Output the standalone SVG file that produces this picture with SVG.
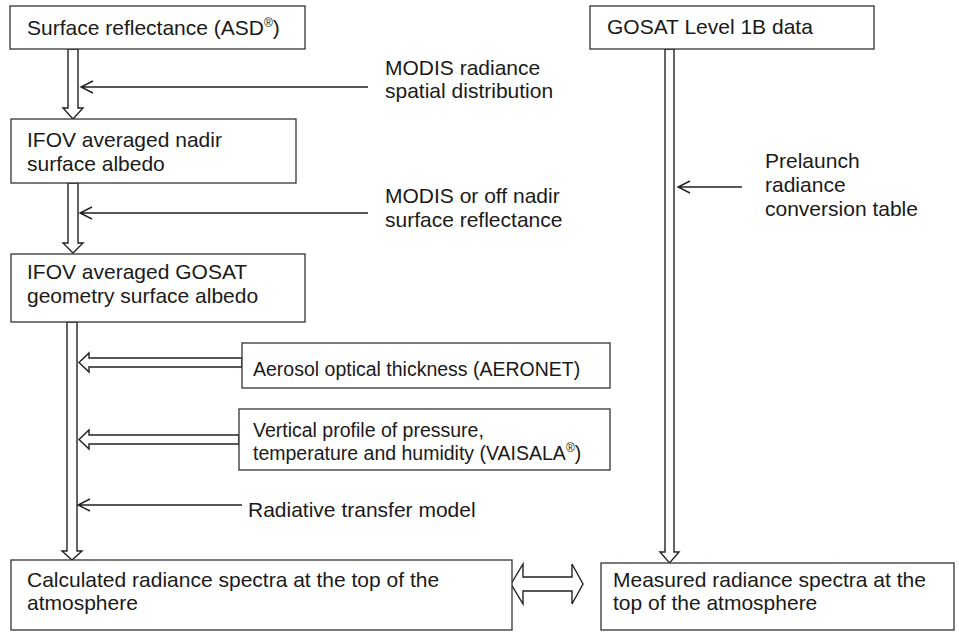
<svg xmlns="http://www.w3.org/2000/svg" width="959" height="632" viewBox="0 0 959 632">
  <style>
    .box { fill: #ffffff; stroke: #333333; stroke-width: 1.3; }
    .hollow { fill: #ffffff; stroke: #222222; stroke-width: 1.4; stroke-linejoin: miter; }
    .thin { fill: none; stroke: #222222; stroke-width: 1.4; }
    text { font-family: "Liberation Sans", Arial, sans-serif; font-size: 21px; fill: #1a1a1a; }
    .small { font-size: 19.5px; }
    .sup { font-size: 12px; }
  </style>
  <rect width="959" height="632" fill="#ffffff"/>

  <!-- connectors -->
  <g id="connectors">
    <!-- hollow block arrows -->
    <polygon class="hollow" points="68,49 78,49 78,108 83,108 73,119 63,108 68,108"/>
    <polygon class="hollow" points="68,183 78,183 78,243 83,243 73,253 63,243 68,243"/>
    <polygon class="hollow" points="67,322 77,322 77,551 82,551 72,560 62,551 67,551"/>
    <polygon class="hollow" points="665,49 674,49 674,552 679,552 669.5,563 660,552 665,552"/>
    <polygon class="hollow" points="242,358 89,358 89,353 79,362.5 89,372 89,367 242,367"/>
    <polygon class="hollow" points="239,435 89,435 89,430 79,439.5 89,449 89,444 239,444"/>
    <!-- double-headed comparison arrow -->
    <polygon class="hollow" points="511,584 523,564 523,577 572,577 572,564 583,584 572,604 572,591 523,591 523,604"/>
    <!-- thin input arrows -->
    <path class="thin" d="M368,87 H81 M93,81 L81,87 L93,93"/>
    <path class="thin" d="M368,213 H80 M92,207 L80,213 L92,219"/>
    <path class="thin" d="M742,187 H678 M690,181 L678,187 L690,193"/>
    <path class="thin" d="M242,505 H78 M90,499 L78,505 L90,511"/>
  </g>

  <!-- labels on connectors -->
  <g id="label-modis-radiance">
    <text x="385" y="75">MODIS radiance</text>
    <text x="385" y="98">spatial distribution</text>
  </g>
  <g id="label-modis-offnadir">
    <text x="385" y="203">MODIS or off nadir</text>
    <text x="385" y="227">surface reflectance</text>
  </g>
  <g id="label-prelaunch">
    <text x="765" y="168">Prelaunch</text>
    <text x="765" y="192">radiance</text>
    <text x="765" y="216">conversion table</text>
  </g>
  <g id="label-rtm">
    <text x="248" y="517">Radiative transfer model</text>
  </g>

  <!-- nodes -->
  <g id="node-surface-reflectance">
    <rect class="box" x="10" y="6" width="295" height="43"/>
    <text x="27" y="35">Surface reflectance (ASD<tspan class="sup" dy="-8">®</tspan><tspan dy="8">)</tspan></text>
  </g>
  <g id="node-gosat-l1b">
    <rect class="box" x="590" y="6" width="284" height="43"/>
    <text x="607" y="34">GOSAT Level 1B data</text>
  </g>
  <g id="node-nadir-albedo">
    <rect class="box" x="11" y="119" width="285" height="64"/>
    <text x="27" y="147">IFOV averaged nadir</text>
    <text x="27" y="171">surface albedo</text>
  </g>
  <g id="node-gosat-albedo">
    <rect class="box" x="11" y="254" width="294" height="68"/>
    <text x="27" y="279">IFOV averaged GOSAT</text>
    <text x="27" y="303">geometry surface albedo</text>
  </g>
  <g id="node-aerosol">
    <rect class="box" x="242" y="343" width="368" height="45"/>
    <text class="small" x="253" y="376">Aerosol optical thickness (AERONET)</text>
  </g>
  <g id="node-profile">
    <rect class="box" x="239" y="409" width="371" height="61"/>
    <text class="small" x="253" y="437">Vertical profile of pressure,</text>
    <text class="small" x="253" y="460">temperature and humidity (VAISALA<tspan class="sup" dy="-8">®</tspan><tspan dy="8">)</tspan></text>
  </g>
  <g id="node-calculated">
    <rect class="box" x="11" y="560" width="501" height="70"/>
    <text x="27" y="587">Calculated radiance spectra at the top of the</text>
    <text x="27" y="610">atmosphere</text>
  </g>
  <g id="node-measured">
    <rect class="box" x="601" y="563" width="353" height="67"/>
    <text x="613" y="587">Measured radiance spectra at the</text>
    <text x="613" y="610">top of the atmosphere</text>
  </g>
</svg>
